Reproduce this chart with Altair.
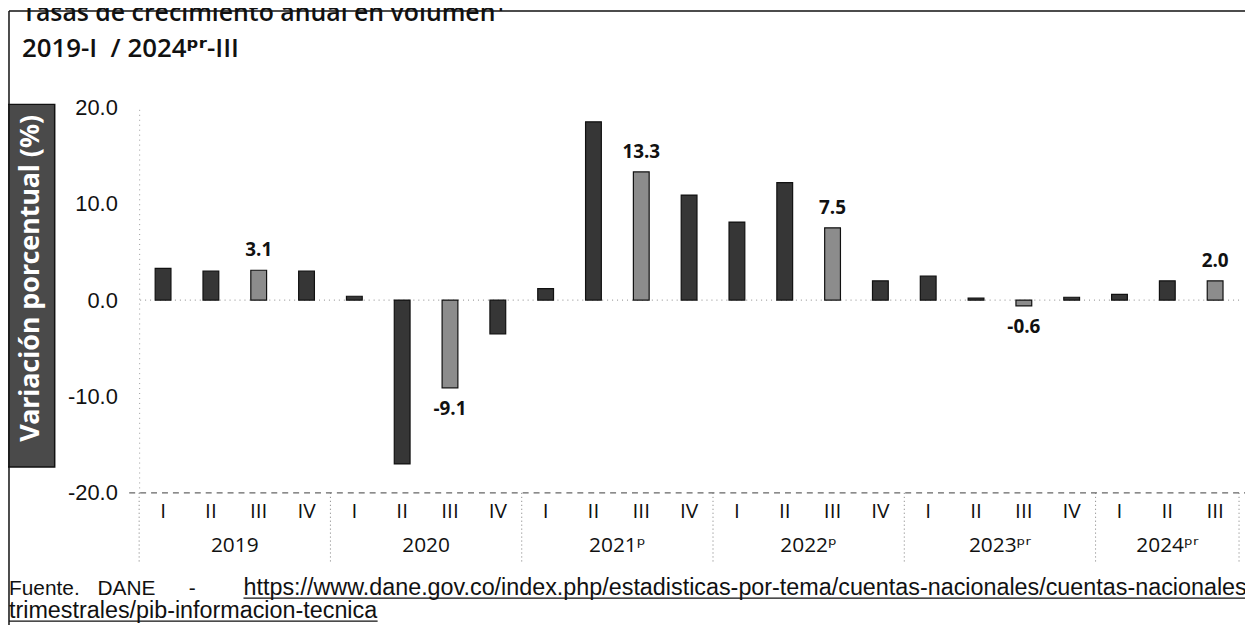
import altair as alt
import pandas as pd

# ---- data ----
years = ["2019"] * 4 + ["2020"] * 4 + ["2021ᵖ"] * 4 + ["2022ᵖ"] * 4 + ["2023ᵖʳ"] * 4 + ["2024ᵖʳ"] * 3
quarters = ["I", "II", "III", "IV"] * 5 + ["I", "II", "III"]
values = [3.3, 3.0, 3.1, 3.0,
          0.4, -17.0, -9.1, -3.5,
          1.2, 18.5, 13.3, 10.9,
          8.1, 12.2, 7.5, 2.0,
          2.5, 0.2, -0.6, 0.3,
          0.6, 2.0, 2.0]
y_ticks = [-20, -10, 0, 10, 20]

title_1 = "Tasas de crecimiento anual en volumen¹"
title_2 = "2019-I \u00a0/ 2024ᵖʳ-III"
y_title = "Variación porcentual (%)"
foot_words = ["Fuente.", "DANE", "-"]
foot_url_1 = "https://www.dane.gov.co/index.php/estadisticas-por-tema/cuentas-nacionales/cuentas-nacionales-"
foot_url_2 = "trimestrales/pib-informacion-tecnica"

SANS = "Open Sans, DejaVu Sans"

df = pd.DataFrame({
    "idx": list(range(len(values))),
    "year": years,
    "q": quarters,
    "v": values,
})
df["kind"] = ["h" if q == "III" else "n" for q in quarters]

W, H = 1107, 388
xs = alt.Scale(domain=[-0.5, len(values) - 0.5], nice=False, zero=False)
ys = alt.Scale(domain=[min(y_ticks), max(y_ticks)], nice=False)
base = alt.Chart(df)

bars = base.transform_calculate(
    xa="datum.idx - 0.165", xb="datum.idx + 0.165"
).mark_bar(stroke="#111111", strokeWidth=1.2).encode(
    x=alt.X("xa:Q", scale=xs, axis=None),
    x2="xb:Q",
    y=alt.Y("v:Q", scale=ys, axis=alt.Axis(values=y_ticks, ticks=False, grid=False, title=None,
                                            labelExpr="replace(format(datum.value, '.1f'), '\u2212', '-')",
                                            domainDash=[1, 4], domainColor="#999999",
                                            labelFont="Liberation Sans", labelFontSize=22,
                                            labelColor="#111111", labelPadding=22)),
    y2=alt.datum(0),
    color=alt.Color("kind:N", scale=alt.Scale(domain=["n", "h"], range=["#363636", "#8c8c8c"]), legend=None),
)

zero = alt.Chart(pd.DataFrame({"z": [0]})).mark_rule(strokeDash=[1, 4], color="#888888").encode(
    y=alt.Y("z:Q", scale=ys)
)
bottom = alt.Chart(pd.DataFrame({"z": [min(y_ticks)]})).mark_rule(
    strokeDash=[6, 5], color="#666666", strokeWidth=1.2
).encode(y=alt.Y("z:Q", scale=ys), x=alt.value(-10), x2=alt.value(W + 6))

lab_calc = "replace(format(datum.v, '.1f'), '\u2212', '-')"
lab_pos = base.transform_filter("datum.q == 'III' && datum.v >= 0").transform_calculate(
    lbl=lab_calc
).mark_text(
    dy=-20, font="Open Sans", fontWeight="bold", fontSize=19, color="#111111", baseline="middle"
).encode(x=alt.X("idx:Q", scale=xs), y=alt.Y("v:Q", scale=ys), text="lbl:N")

lab_neg = base.transform_filter("datum.q == 'III' && datum.v < 0").transform_calculate(
    lbl=lab_calc
).mark_text(
    dy=21, font="Open Sans", fontWeight="bold", fontSize=19, color="#111111", baseline="middle"
).encode(x=alt.X("idx:Q", scale=xs), y=alt.Y("v:Q", scale=ys), text="lbl:N")

q_labels = base.mark_text(font=SANS, fontSize=21, color="#111111", baseline="middle").encode(
    x=alt.X("idx:Q", scale=xs), y=alt.value(H + 19), text="q:N"
)

y_labels = base.transform_aggregate(c="mean(idx)", groupby=["year"]).mark_text(
    font=SANS, fontSize=21, color="#111111", baseline="middle"
).encode(x=alt.X("c:Q", scale=xs), y=alt.value(H + 54), text="year:N")

seps = base.transform_aggregate(m="min(idx)", groupby=["year"]).transform_calculate(
    s="datum.m - 0.5"
).mark_rule(strokeDash=[1, 3], color="#777777").encode(
    x=alt.X("s:Q", scale=xs), y=alt.value(H), y2=alt.value(H + 70)
)
sep_end = base.transform_aggregate(m="max(idx)").transform_calculate(
    s="datum.m + 0.5"
).mark_rule(strokeDash=[1, 3], color="#777777").encode(
    x=alt.X("s:Q", scale=xs), y=alt.value(H), y2=alt.value(H + 70)
)

one = pd.DataFrame({"k": [0]})

# y title box
ybox = alt.Chart(one).mark_rect(fill="#4a4a4a", stroke="#111111", strokeWidth=1.5).encode(
    x=alt.value(-134), x2=alt.value(-85), y=alt.value(-3), y2=alt.value(362)
)
ytext = alt.Chart(pd.DataFrame({"t": [y_title]})).mark_text(
    angle=270, color="white", font="Noto Sans", fontWeight="bold", fontSize=27, baseline="middle", align="center"
).encode(x=alt.value(-109), y=alt.value(172), text="t:N")

# titles
t1 = alt.Chart(pd.DataFrame({"t": [title_1]})).mark_text(
    font=SANS, fontWeight=600, fontSize=25, color="#111111", align="left", baseline="alphabetic"
).encode(x=alt.value(-118), y=alt.value(-87), text="t:N")
t2 = alt.Chart(pd.DataFrame({"t": [title_2]})).mark_text(
    font=SANS, fontWeight=600, fontSize=26, color="#111111", align="left", baseline="alphabetic"
).encode(x=alt.value(-118), y=alt.value(-51), text="t:N")

# frame lines
top_line = alt.Chart(one).mark_rule(color="#111111", strokeWidth=1.5).encode(
    x=alt.value(-131), x2=alt.value(W + 6), y=alt.value(-97)
)
left_line = alt.Chart(one).mark_rule(color="#111111", strokeWidth=1.5).encode(
    x=alt.value(-131), y=alt.value(-97), y2=alt.value(H + 133)
)

# footer
fx = [-131, -42, 50]
foot_words_layer = alt.layer(*[
    alt.Chart(pd.DataFrame({"t": [w]})).mark_text(
        font="Liberation Sans", fontSize=21, color="#111111", align="left", baseline="alphabetic"
    ).encode(x=alt.value(px), y=alt.value(491), text="t:N")
    for w, px in zip(foot_words, fx)
])
url1 = alt.Chart(pd.DataFrame({"t": [foot_url_1]})).mark_text(
    font="Liberation Sans", fontSize=23.5, color="#111111", align="left", baseline="alphabetic"
).encode(x=alt.value(105), y=alt.value(491), text="t:N")
url2 = alt.Chart(pd.DataFrame({"t": [foot_url_2]})).mark_text(
    font="Liberation Sans", fontSize=23.5, color="#111111", align="left", baseline="alphabetic"
).encode(x=alt.value(-131), y=alt.value(514), text="t:N")
ul1 = alt.Chart(one).mark_rule(color="#111111", strokeWidth=1.2).encode(
    x=alt.value(105), x2=alt.value(W + 6), y=alt.value(494)
)
ul2 = alt.Chart(one).mark_rule(color="#111111", strokeWidth=1.2).encode(
    x=alt.value(-131), x2=alt.value(240), y=alt.value(517)
)

chart = alt.layer(
    zero, bottom, bars, lab_pos, lab_neg, q_labels, y_labels, seps, sep_end,
    ybox, ytext, t1, t2, top_line, left_line,
    foot_words_layer, url1, url2, ul1, ul2,
).properties(
    width=W, height=H,
    padding={"left": 132, "top": 98, "right": 6, "bottom": 133},
    autosize=alt.AutoSizeParams(type="none"),
    background="white",
).configure_view(stroke=None)

chart.save("out.html", embed_options={"renderer": "svg", "actions": False})
